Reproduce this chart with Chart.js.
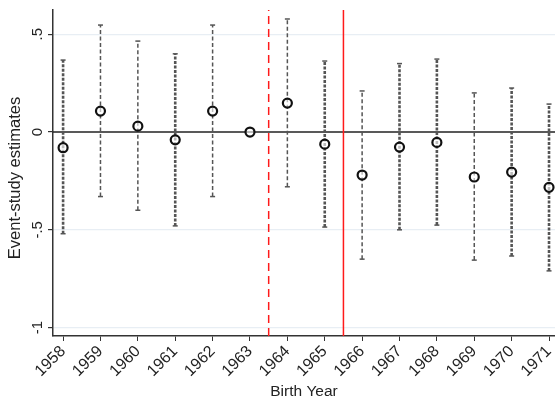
<!DOCTYPE html>
<html>
<head>
<meta charset="UTF-8">
<script src="https://cdn.jsdelivr.net/npm/chart.js"></script>
<style>
  body { margin: 0; background: #fff; }
  #wrap { width: 555px; height: 401px; }
</style>
</head>
<body>
<div id="wrap"><canvas id="c" width="555" height="401"></canvas></div>
<script>
// data
const years = [1958, 1959, 1960, 1961, 1962, 1963, 1964, 1965, 1966, 1967, 1968, 1969, 1970, 1971];
const estimates = [-0.08, 0.107, 0.03, -0.04, 0.107, 0, 0.148, -0.062, -0.22, -0.077, -0.053, -0.23, -0.205, -0.283];
const ciLow = [-0.52, -0.33, -0.40, -0.48, -0.33, null, -0.28, -0.486, -0.65, -0.50, -0.476, -0.655, -0.634, -0.71];
const ciHigh = [0.368, 0.547, 0.465, 0.40, 0.547, null, 0.578, 0.363, 0.21, 0.35, 0.373, 0.20, 0.225, 0.143];
const yTicks = [0.5, 0, -0.5, -1];
const yTickLabels = ['.5', '0', '-.5', '-1'];
const cutoffDashed = 1963.5;
const cutoffSolid = 1965.5;

// which error bars look heavier in the original
const heavy = [true, false, false, true, false, false, false, true, false, true, true, false, true, true];

const xMin = 1957.73, xMax = 1971.16, yMin = -1.043, yMax = 0.624;
const FONT = '"Liberation Sans", Arial, sans-serif';

const datasets = [];
years.forEach((yr, i) => {
  if (ciLow[i] === null) return;
  datasets.push({
    type: 'line',
    data: [{ x: yr, y: ciLow[i] }, { x: yr, y: ciHigh[i] }],
    borderColor: '#555',
    borderWidth: heavy[i] ? 2.6 : 1.5,
    borderDash: heavy[i] ? [3, 1.5] : [4, 2.5],
    pointStyle: 'line',
    pointRadius: 2.5,
    pointBorderWidth: 1.5,
    pointBorderColor: '#555',
    order: 3
  });
});

datasets.push({
  type: 'line',
  data: [{ x: xMin, y: 0 }, { x: xMax, y: 0 }],
  borderColor: '#222', borderWidth: 1.6, pointRadius: 0, order: 4
});
datasets.push({
  type: 'line',
  data: [{ x: cutoffDashed, y: yMin }, { x: cutoffDashed, y: yMax }],
  borderColor: '#ff1a1a', borderWidth: 1.5, borderDash: [8, 5], pointRadius: 0, order: 2
});
datasets.push({
  type: 'line',
  data: [{ x: cutoffSolid, y: yMin }, { x: cutoffSolid, y: yMax }],
  borderColor: '#ff1a1a', borderWidth: 1.5, pointRadius: 0, order: 2
});
datasets.push({
  type: 'scatter',
  data: years.map((yr, i) => ({ x: yr, y: estimates[i] })),
  pointStyle: 'circle',
  pointRadius: 4.5,
  pointBorderWidth: 2.2,
  pointBorderColor: '#111',
  pointBackgroundColor: 'rgba(255,255,255,0.6)',
  order: 0
});

// vertical tick labels and axis title on the left
const yLabelPlugin = {
  id: 'yLabels',
  afterDraw(chart) {
    const ctx = chart.ctx;
    const y = chart.scales.y;
    ctx.save();
    ctx.fillStyle = '#222';
    ctx.textAlign = 'center';
    ctx.textBaseline = 'middle';
    ctx.font = '15px ' + FONT;
    yTicks.forEach((v, i) => {
      ctx.save();
      ctx.translate(38, y.getPixelForValue(v));
      ctx.rotate(-Math.PI / 2);
      ctx.fillText(yTickLabels[i], 0, 0);
      ctx.restore();
    });
    ctx.font = '16.5px ' + FONT;
    ctx.translate(15, 178);
    ctx.rotate(-Math.PI / 2);
    ctx.fillText('Event-study estimates', 0, 0);
    ctx.restore();
  }
};

new Chart(document.getElementById('c'), {
  type: 'scatter',
  data: { datasets },
  options: {
    responsive: false,
    animation: false,
    layout: { autoPadding: false, padding: { top: 10, right: 0, left: 0, bottom: 0 } },
    plugins: { legend: { display: false }, tooltip: { enabled: false } },
    scales: {
      x: {
        type: 'linear',
        min: xMin, max: xMax,
        afterBuildTicks: s => { s.ticks = years.map(v => ({ value: v })); },
        afterFit: s => { s.height = 65; s.paddingLeft = 0; s.paddingRight = 0; },
        grid: { drawOnChartArea: false, color: '#333', tickLength: 5, tickColor: '#333' },
        border: { color: '#333', width: 1.5 },
        ticks: {
          autoSkip: false, minRotation: 45, maxRotation: 45, padding: 1,
          color: '#222',
          font: { family: FONT, size: 16 },
          callback: v => String(v)
        },
        title: {
          display: true, text: 'Birth Year', color: '#222',
          font: { family: FONT, size: 15.5 },
          padding: { top: 0, bottom: 0 }
        }
      },
      y: {
        type: 'linear',
        min: yMin, max: yMax,
        afterBuildTicks: s => { s.ticks = yTicks.map(v => ({ value: v })); },
        afterFit: s => { s.width = 53; s.paddingTop = 0; s.paddingBottom = 0; },
        grid: {
          color: ctx => ctx.tick && ctx.tick.value === 0 ? 'rgba(0,0,0,0)' : '#e8eef4',
          lineWidth: 1.2, tickLength: 5, tickColor: '#333'
        },
        border: { color: '#333', width: 1.5 },
        ticks: { display: true, color: 'rgba(0,0,0,0)', font: { size: 1 }, padding: 0 }
      }
    }
  },
  plugins: [yLabelPlugin]
});
</script>
</body>
</html>
